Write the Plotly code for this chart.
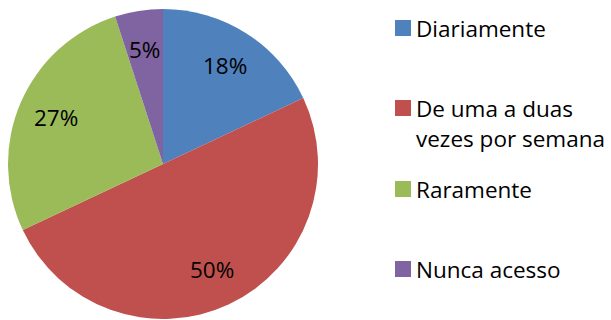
import math
import plotly.graph_objects as go

# Frequência de acesso
categories = ["Diariamente", "De uma a duas vezes por semana", "Raramente", "Nunca acesso"]
values = [18, 50, 27, 5]
colors = ["#4F81BD", "#C0504D", "#9BBB59", "#8064A2"]
legend_lines = [["Diariamente"], ["De uma a duas", "vezes por semana"], ["Raramente"], ["Nunca acesso"]]

W, H = 611, 320
FONT = "Open Sans"
FS = 22.5

# pie placement in pixels
cx, cy, R = 163, 164, 155

fig = go.Figure(go.Pie(
    labels=categories,
    values=values,
    sort=False,
    direction="clockwise",
    rotation=0,
    marker=dict(colors=colors, line=dict(width=0)),
    textinfo="none",
    showlegend=False,
    domain=dict(x=[(cx - R) / W, (cx + R) / W], y=[1 - (cy + R) / H, 1 - (cy - R) / H]),
))

annotations = []
shapes = []

# percentage labels on each slice bisector
total = sum(values)
cum = 0
for v in values:
    mid = (cum + v / 2) / total * 2 * math.pi
    cum += v
    r = 0.75 * R
    px = cx + r * math.sin(mid)
    py = cy - r * math.cos(mid)
    annotations.append(dict(
        x=px / W, y=1 - py / H, xref="paper", yref="paper",
        text=f"{round(v / total * 100)}%", showarrow=False,
        font=dict(family=FONT, size=FS, color="#000000"),
        xanchor="center", yanchor="middle",
    ))

# legend
legend_y = [28, 108, 189, 269]
sq_x0, sq = 395, 16
line_gap = 30
for lines, col, ly in zip(legend_lines, colors, legend_y):
    shapes.append(dict(
        type="rect", xref="paper", yref="paper",
        x0=sq_x0 / W, x1=(sq_x0 + sq) / W,
        y0=1 - (ly + sq / 2) / H, y1=1 - (ly - sq / 2) / H,
        fillcolor=col, line=dict(width=0),
    ))
    for i, t in enumerate(lines):
        annotations.append(dict(
            x=414 / W, y=1 - (ly + i * line_gap) / H, xref="paper", yref="paper",
            text=t, showarrow=False, xanchor="left", yanchor="middle",
            font=dict(family=FONT, size=FS, color="#000000"),
        ))

fig.update_layout(
    width=W, height=H,
    margin=dict(l=0, r=0, t=0, b=0),
    paper_bgcolor="white", plot_bgcolor="white",
    annotations=annotations, shapes=shapes,
)

fig.write_html("out.html")
